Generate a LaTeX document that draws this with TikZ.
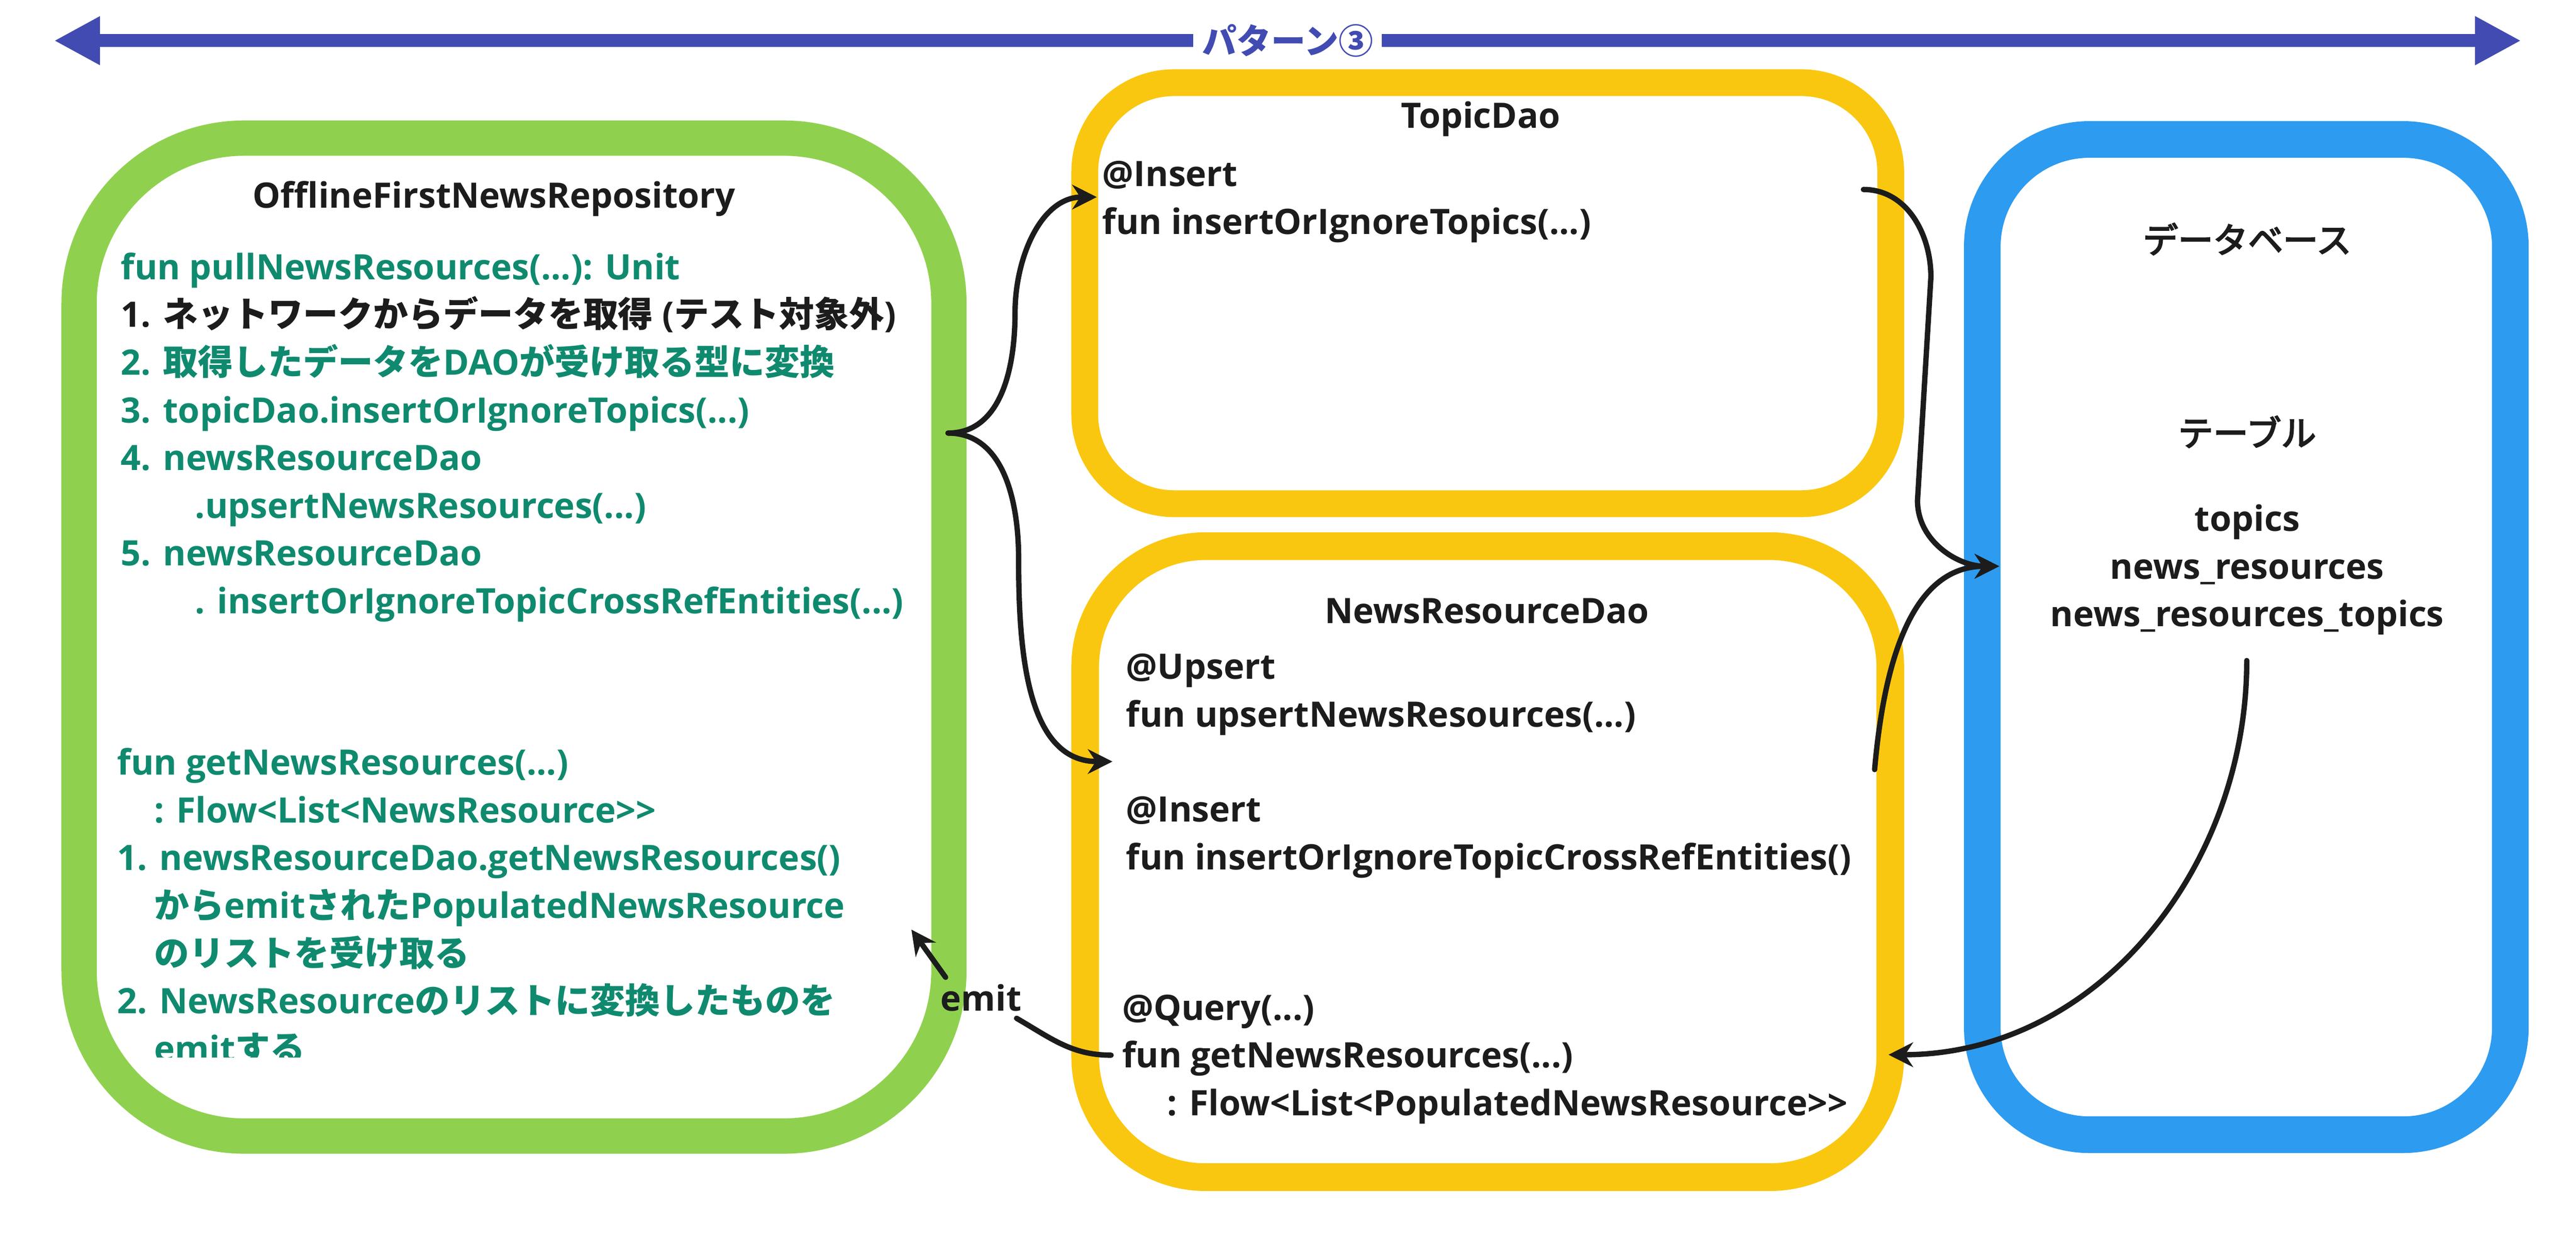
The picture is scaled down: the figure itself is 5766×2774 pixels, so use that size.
\documentclass[tikz,border=0pt]{standalone}
\usepackage{fontspec}
\setmainfont{Open Sans}[Ligatures=TeXOff]
\newfontfamily\jp{Noto Sans CJK JP}
\newfontfamily\jpm{Noto Sans CJK JP}[FakeBold=3.5]
\usetikzlibrary{arrows.meta}
\definecolor{frameGreen}{HTML}{8FD14F}
\definecolor{frameYellow}{HTML}{FAC710}
\definecolor{frameBlue}{HTML}{2D9BF0}
\definecolor{spanBlue}{HTML}{414BB2}
\definecolor{codeGreen}{HTML}{0F8A6E}
\definecolor{ink}{HTML}{1C1C1C}
\newcommand{\ja}[1]{{\jpm\mdseries #1}}
\newcommand{\jb}[1]{{\jp #1}}
\begin{document}
\begin{tikzpicture}[x=0.1mm,y=-0.1mm,
  boxframe/.style={draw=#1,fill=white,inner sep=0pt},
  txt/.style={font=\fontsize{22.3}{30.4}\selectfont\bfseries,text=ink,align=left,anchor=base west,inner sep=0pt},
  link/.style={draw=ink,line width=1.2mm,line cap=round},
  arrowed/.style={-{Stealth[length=5.5mm,width=5.5mm]}}]
\fill[white] (0,0) rectangle (5766,2774);
\useasboundingbox (0,0) rectangle (5766,2774);
\coordinate (spanL) at (121,91);
\coordinate (spanR) at (5643,91);
\draw[spanBlue,line width=2.9mm,{Triangle[length=10.3mm,width=10.2mm]}-{Triangle[length=10.3mm,width=10.2mm]}] (spanL) -- (spanR)
  node[midway,fill=white,text=spanBlue,font=\fontsize{22}{26}\selectfont\jp\bfseries,inner xsep=2mm] (pattern) {パターン③};
\node[boxframe=frameGreen,line width=7.9mm,rounded corners=37mm,minimum width=194.7mm,minimum height=223.3mm] (repo) at (1150.5,1425.5) {};
\node[boxframe=frameYellow,line width=6mm,rounded corners=20mm,minimum width=180.4mm,minimum height=94.2mm] (topicdao) at (3330,656) {};
\node[boxframe=frameYellow,line width=6.2mm,rounded corners=27mm,minimum width=180.2mm,minimum height=141.2mm] (newsdao) at (3330,1928) {};
\node[boxframe=frameBlue,line width=8.2mm,rounded corners=24mm,minimum width=118.2mm,minimum height=222.7mm] (db) at (5028,1425.5) {};
\node[txt,anchor=base] (repoTitle) at (1106,465) {OfflineFirstNewsRepository};
\node[txt,text=codeGreen] (pull) at (270,1373) {fun pullNewsResources(...): Unit\\
  \textcolor{ink}{1. \jb{ネットワークからデータを取得} (\jb{テスト対象外})}\\
  2. \jb{取得したデータを}DAO\jb{が受け取る型に変換}\\
  3. topicDao.insertOrIgnoreTopics(...)\\
  4. newsResourceDao\\
  \hspace*{16.6mm}.upsertNewsResources(...)\\
  5. newsResourceDao\\
  \hspace*{16.6mm}. insertOrIgnoreTopicCrossRefEntities(...)};
\begin{scope}
\clip (0,0) rectangle (2162,2366);
\node[txt,text=codeGreen] (getter) at (262,2375) {fun getNewsResources(...)\\
  \hspace*{8.3mm}: Flow<List<NewsResource>>\\
  1. newsResourceDao.getNewsResources()\\
  \hspace*{8.3mm}\jb{から}emit\jb{された}PopulatedNewsResource\\
  \hspace*{8.3mm}\jb{のリストを受け取る}\\
  2. NewsResource\jb{のリストに変換したものを}\\
  \hspace*{8.3mm}emit\jb{する}};
\end{scope}
\node[txt,anchor=base] (topicTitle) at (3314,287) {TopicDao};
\node[txt] (topicInsert) at (2467,524) {@Insert\\fun insertOrIgnoreTopics(...)};
\node[txt,anchor=base] (newsTitle) at (3328,1395) {NewsResourceDao};
\node[txt] (upsert) at (2520,1626) {@Upsert\\fun upsertNewsResources(...)};
\node[txt] (crossref) at (2520,1946) {@Insert\\fun insertOrIgnoreTopicCrossRefEntities()};
\node[txt] (query) at (2511,2496) {@Query(...)\\fun getNewsResources(...)\\\hspace*{10.1mm}: Flow<List<PopulatedNewsResource>>};
\node[txt,anchor=base] (dbTitle) at (5030,566) {\ja{データベース}};
\node[txt,anchor=base] (tableTitle) at (5030,998) {\ja{テーブル}};
\node[txt,anchor=base,align=center] (tables) at (5030,1402) {topics\\news\_resources\\news\_resources\_topics};
\node[txt,anchor=base,inner sep=1.5mm] (emit) at (2196,2262) {emit};
\coordinate (split) at (2122,969);
\coordinate (topicIn) at (2455,441);
\coordinate (newsIn) at (2490,1704);
\coordinate (topicOut) at (4171,424);
\coordinate (newsOut) at (4196,1722);
\coordinate (dbIn) at (4475,1267);
\coordinate (dbOut) at (5029,1478);
\coordinate (queryIn) at (4227,2360);
\coordinate (queryOut) at (2487,2361);
\coordinate (repoIn) at (2040,2080);
\draw[link,arrowed] (split) to[out=0,in=-90] (2272,700) to[out=90,in=180] (topicIn);
\draw[link,arrowed] (split) to[out=0,in=90] (2280,1250) to[out=-90,in=180] (newsIn);
\draw[link,arrowed] (topicOut) to[out=0,in=90] (4322,620) -- (4292,1120) to[out=-90,in=180] (dbIn);
\draw[link,arrowed] (newsOut) to[out=85,in=180] (dbIn);
\draw[link,arrowed] (dbOut) to[out=-90,in=0] (queryIn);
\draw[link] (queryOut) to[out=180,in=-30] (emit.-30);
\draw[link,arrowed] (emit.150) -- (repoIn);
\end{tikzpicture}
\end{document}
